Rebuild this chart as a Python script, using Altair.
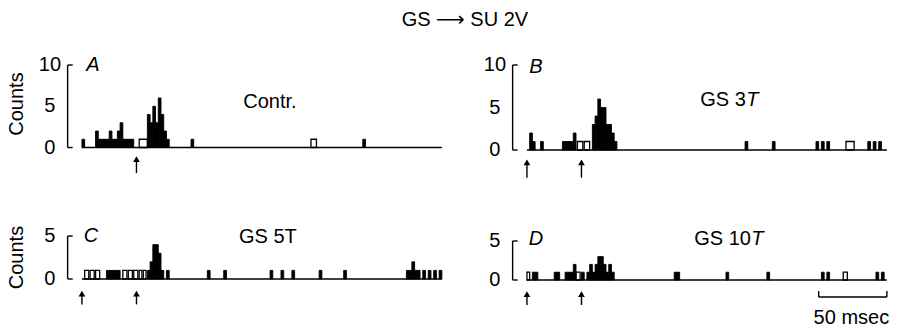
import altair as alt
import pandas as pd

FONT = "Liberation Sans, Arial, DejaVu Sans"
BIN_MS = 2
TIME_RANGE = [0, 264]

# Histogram bins drawn solid (bin start in ms, counts)
A_t = [0, 10, 12, 14, 16, 18, 20, 22, 24, 26, 28, 30, 32, 34, 36,
       48, 50, 52, 54, 56, 58, 60, 62, 80, 206]
A_n = [1, 2, 1, 1, 1, 1, 2, 1, 1, 2, 3, 1, 1, 1, 1,
       4, 3, 5, 3, 6, 4, 2, 1, 1, 1]
# Runs drawn as open outlines (start ms, width ms, count)
A_open_t = [42, 168]
A_open_w = [6, 4]
A_open_n = [1, 1]

B_t = [2, 4, 10, 26, 28, 30, 32, 34,
       48, 50, 52, 54, 56, 58, 60, 62, 64, 160, 180, 212, 216, 220, 250, 254, 258]
B_n = [2, 1, 1, 1, 1, 1, 1, 2,
       3, 4, 6, 5, 5, 3, 3, 2, 1, 1, 1, 1, 1, 1, 1, 1, 1]
B_open_t = [37, 42, 234]
B_open_w = [4, 4, 6]
B_open_n = [1, 1, 1]

C_t = [18, 20, 22, 24, 26,
       48, 50, 52, 54, 56, 58, 62, 92, 104, 138, 146, 154, 174, 192,
       238, 240, 242, 244, 246, 250, 254, 258, 262]
C_n = [1, 1, 1, 1, 1,
       1, 2, 4, 4, 3, 1, 1, 1, 1, 1, 1, 1, 1, 1,
       1, 1, 2, 1, 1, 1, 1, 1, 1]
C_open_t = [2, 6, 10, 30, 34, 38, 42, 45]
C_open_w = [3, 3, 3, 3, 3, 3, 2, 2]
C_open_n = [1, 1, 1, 1, 1, 1, 1, 1]

D_t = [4, 6, 20, 22, 28, 30, 32, 34, 40, 44, 46, 48, 50, 52, 54, 56, 58, 60, 62,
       108, 110, 146, 176, 216, 220, 256, 260]
D_n = [1, 1, 1, 1, 1, 1, 1, 2, 1, 1, 2, 1, 2, 3, 3, 2, 1, 2, 1,
       1, 1, 1, 1, 1, 1, 1, 1]
D_open_t = [0, 36, 232]
D_open_w = [2, 3, 3]
D_open_n = [1, 1, 1]

TICKS_TOP = [0, 5, 10]
TICKS_BOTTOM = [0, 5]
STIM_A = [40]
STIM = [0, 40]
SCALE_BAR_MS = [214, 264]

XDOM = [-60.1, 266.3]
W = 445


def panel(t, n, ot, ow, on, ydom, height, ticks, letter, lab_main, lab_ital, lab_pos, stim,
          arrow_y, counts_y=None, title=None, scalebar=None):
    xs = alt.Scale(domain=XDOM, nice=False, zero=False)
    ys = alt.Scale(domain=ydom, nice=False, zero=False)
    X = lambda f: alt.X(f, type="quantitative", scale=xs, axis=None)
    Y = lambda f: alt.Y(f, type="quantitative", scale=ys, axis=None)

    hist = pd.DataFrame({"t": t, "n": n})
    opn = pd.DataFrame({"t": ot, "w": ow, "n": on})
    layers = []
    layers.append(
        alt.Chart(pd.DataFrame({"a": [TIME_RANGE[0]], "b": [TIME_RANGE[1]], "z": [0]}))
        .mark_rule(color="black", strokeWidth=1.3)
        .encode(x=X("a"), x2="b", y=Y("z"))
    )
    layers.append(
        alt.Chart(hist)
        .transform_calculate(t2=f"datum.t + {BIN_MS}", z="0")
        .mark_rect(fill="black", stroke="black", strokeWidth=0.9)
        .encode(x=X("t"), x2="t2:Q", y=Y("z:Q"), y2="n:Q")
    )
    layers.append(
        alt.Chart(opn)
        .transform_calculate(t2="datum.t + datum.w", z="0")
        .mark_rect(fillOpacity=0, stroke="black", strokeWidth=1.3)
        .encode(x=X("t"), x2="t2:Q", y=Y("z:Q"), y2="n:Q")
    )
    # y bracket axis
    top = ticks[-1]
    layers.append(
        alt.Chart(pd.DataFrame({"x": [-10.5], "a": [0], "b": [top]}))
        .mark_rule(color="black", strokeWidth=1.4)
        .encode(x=X("x"), y=Y("a"), y2="b")
    )
    layers.append(
        alt.Chart(pd.DataFrame({"x": [-10.5, -10.5], "x2": [-6.8, -6.8], "y": [0, top]}))
        .mark_rule(color="black", strokeWidth=1.4)
        .encode(x=X("x"), x2="x2", y=Y("y"))
    )
    layers.append(
        alt.Chart(pd.DataFrame({"x": [-23.5] * len(ticks), "y": ticks, "s": [str(v) for v in ticks]}))
        .mark_text(font=FONT, fontSize=20, align="center", baseline="middle", color="black")
        .encode(x=X("x"), y=Y("y"), text="s:N")
    )
    # arrows
    ay_top, ay_bot = arrow_y
    sdf = pd.DataFrame({"x": stim, "a": [ay_bot] * len(stim), "b": [ay_top - 0.3] * len(stim),
                        "h": [ay_top - 0.35] * len(stim)})
    layers.append(
        alt.Chart(sdf).mark_rule(color="black", strokeWidth=1.4)
        .encode(x=X("x"), y=Y("a"), y2="b")
    )
    layers.append(
        alt.Chart(sdf).mark_point(shape="triangle-up", filled=True, color="black", size=45, opacity=1)
        .encode(x=X("x"), y=Y("h"))
    )
    # panel letter
    layers.append(
        alt.Chart(pd.DataFrame({"x": [letter[1]], "y": [letter[2]], "s": [letter[0]]}))
        .mark_text(font=FONT, fontSize=20, fontStyle="italic", align="center", baseline="middle", color="black")
        .encode(x=X("x"), y=Y("y"), text="s:N")
    )
    # condition label
    lx, ly = lab_pos
    if lab_ital:
        layers.append(
            alt.Chart(pd.DataFrame({"x": [lx], "y": [ly], "s": [lab_main]}))
            .mark_text(font=FONT, fontSize=20, align="right", baseline="middle", color="black")
            .encode(x=X("x"), y=Y("y"), text="s:N")
        )
        layers.append(
            alt.Chart(pd.DataFrame({"x": [lx + 0.3], "y": [ly], "s": [lab_ital]}))
            .mark_text(font=FONT, fontSize=20, fontStyle="italic", align="left", baseline="middle", color="black")
            .encode(x=X("x"), y=Y("y"), text="s:N")
        )
    else:
        layers.append(
            alt.Chart(pd.DataFrame({"x": [lx], "y": [ly], "s": [lab_main]}))
            .mark_text(font=FONT, fontSize=20, align="center", baseline="middle", color="black")
            .encode(x=X("x"), y=Y("y"), text="s:N")
        )
    if counts_y is not None:
        layers.append(
            alt.Chart(pd.DataFrame({"x": [-47.7], "y": [counts_y], "s": ["Counts"]}))
            .mark_text(font=FONT, fontSize=20, angle=270, align="center", baseline="middle", color="black")
            .encode(x=X("x"), y=Y("y"), text="s:N")
        )
    if title is not None:
        layers.append(
            alt.Chart(pd.DataFrame({"x": [title[1]], "y": [title[2]], "s": [title[0]]}))
            .mark_text(font=FONT, fontSize=20, align="center", baseline="middle", color="black")
            .encode(x=X("x"), y=Y("y"), text="s:N")
        )
    if scalebar is not None:
        by, btop, blab = scalebar
        layers.append(
            alt.Chart(pd.DataFrame({"a": [SCALE_BAR_MS[0]], "b": [SCALE_BAR_MS[1]], "y": [by]}))
            .mark_rule(color="black", strokeWidth=1.4)
            .encode(x=X("a"), x2="b", y=Y("y"))
        )
        layers.append(
            alt.Chart(pd.DataFrame({"x": SCALE_BAR_MS, "a": [by, by], "b": [btop, btop]}))
            .mark_rule(color="black", strokeWidth=1.4)
            .encode(x=X("x"), y=Y("a"), y2="b")
        )
        layers.append(
            alt.Chart(pd.DataFrame({"x": [sum(SCALE_BAR_MS) / 2 - 1], "y": [blab], "s": ["50 msec"]}))
            .mark_text(font=FONT, fontSize=20, align="center", baseline="middle", color="black")
            .encode(x=X("x"), y=Y("y"), text="s:N")
        )
    return alt.layer(*layers).properties(width=W, height=height)


pA = panel(A_t, A_n, A_open_t, A_open_w, A_open_n, [-6.36, 17.88], 200, TICKS_TOP, ("A", 8.1, 10.0),
           "Contr.", None, (137.9, 5.5), STIM_A, (-1.05, -3.1), counts_y=5.27,
           title=("GS \u27f6 SU 2V", 280.9, 15.5))
pB = panel(B_t, B_n, B_open_t, B_open_w, B_open_n, [-5.88, 17.65], 200, TICKS_TOP, ("B", 6.6, 9.8),
           "GS 3", "T", (160.6, 5.9), STIM, (-1.1, -3.25))
pC = panel(C_t, C_n, C_open_t, C_open_w, C_open_n, [-5.93, 9.19], 130, TICKS_BOTTOM, ("C", 6.6, 5.0),
           "GS 5T", None, (136.4, 4.9), STIM, (-1.35, -2.95), counts_y=2.5)
pD = panel(D_t, D_n, D_open_t, D_open_w, D_open_n, [-6.41, 10.26], 130, TICKS_BOTTOM, ("D", 6.6, 5.3),
           "GS 10", "T", (164.3, 5.3), STIM, (-1.45, -3.2),
           scalebar=(-2.18, -1.41, -4.87))

chart = (
    alt.concat(pA, pB, pC, pD, columns=2, spacing=0, bounds="flush")
    .properties(padding=0, background="white")
    .configure_view(strokeWidth=0)
)

chart.save("out.html", embed_options={"renderer": "svg", "actions": False})
